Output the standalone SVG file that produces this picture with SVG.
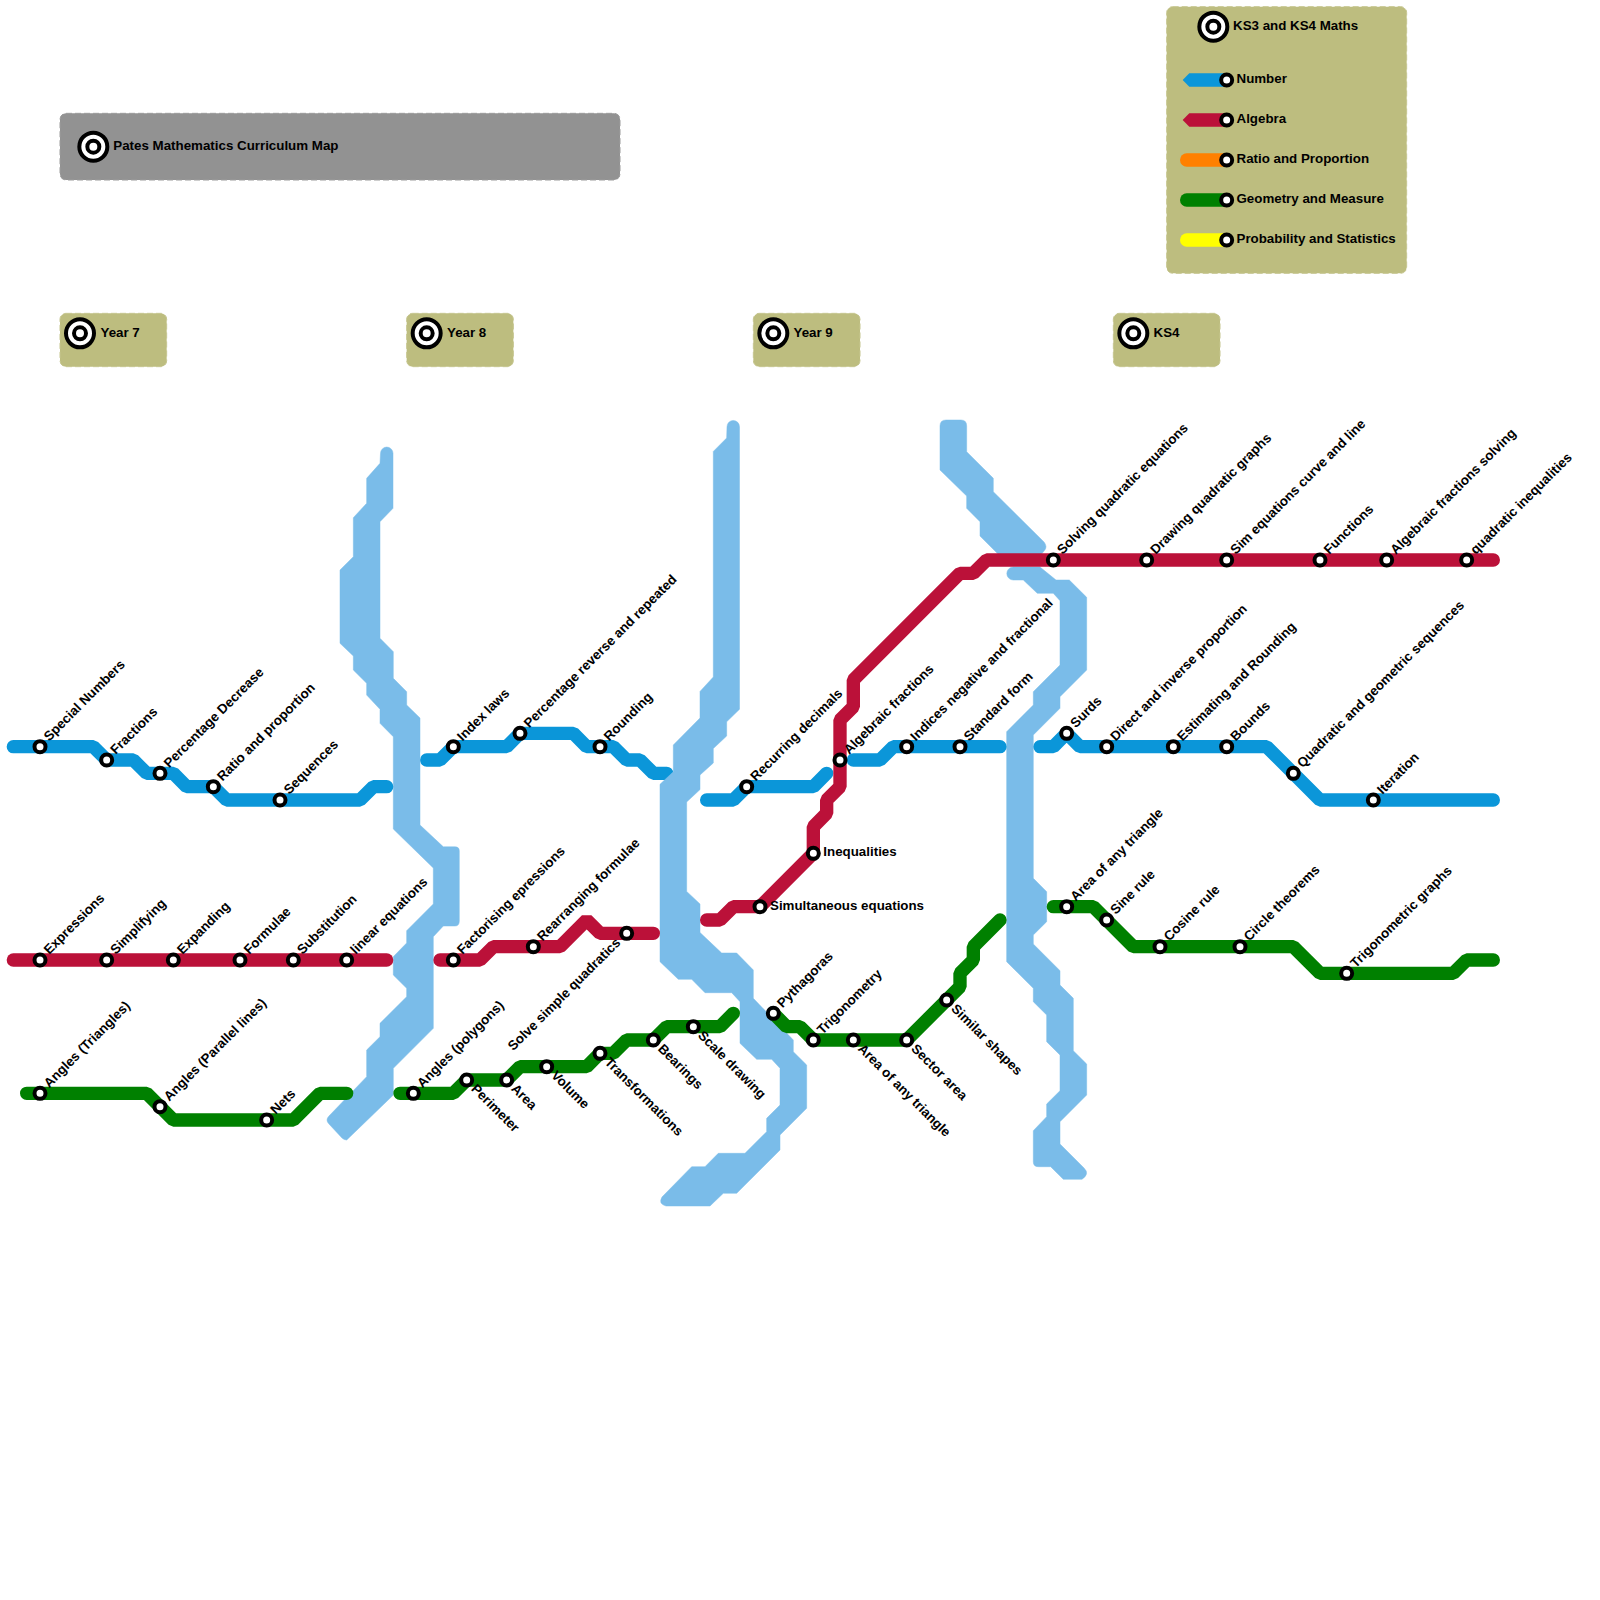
<svg xmlns="http://www.w3.org/2000/svg" width="1600" height="1600" viewBox="0 0 1600 1600">
<style>
.ln{fill:none;stroke-width:1;stroke-linecap:round;stroke-linejoin:bevel}
.num{stroke:#0b96d9}.alg{stroke:#bb1139}.geo{stroke:#008000}
.ghost{fill:#7abce9;stroke:#7abce9;stroke-width:.5;stroke-linejoin:round}
.panel{fill:#bdbd7f;stroke:#c6c690;stroke-width:1;stroke-dasharray:6 3}
.grey{fill:#929292;stroke:#9c9c9c;stroke-width:1;stroke-dasharray:6 3}
.st{fill:#fff;stroke:#000;stroke-width:4}
.up{transform:rotate(-45deg)}
.dn{transform:rotate(45deg)}
text{font-family:"Liberation Sans",Arial,sans-serif;font-weight:bold;font-size:13.33px;fill:#000}
</style>
<defs>
<g id="target"><circle r="14" fill="#fff" stroke="#000" stroke-width="4"/><circle r="6" fill="#fff" stroke="#000" stroke-width="4"/></g>
</defs>
<g id="panels">
<rect class="grey" x="60" y="113.33" width="560" height="66.67" rx="6"/>
<rect class="panel" x="1166.67" y="6.67" width="240" height="266.67" rx="6"/>
<rect class="panel" x="60" y="313.33" width="106.67" height="53.33" rx="6"/>
<rect class="panel" x="406.67" y="313.33" width="106.67" height="53.33" rx="6"/>
<rect class="panel" x="753.33" y="313.33" width="106.67" height="53.33" rx="6"/>
<rect class="panel" x="1113.33" y="313.33" width="106.67" height="53.33" rx="6"/>
</g>
<g id="connectors">
<g id="lines-under" transform="scale(13.3333)">
<polyline class="ln num" points="32,57 33,57 34,56 38,56 39,55 43,55 44,56 46,56 47,57 48,57 49,58 50,58"/>
</g>
<g id="ghosts">
<path class="ghost" d="M380.5,453.3 A6.2,6.2 0 0 1 393,453.3 L393,508.3 L380,521.7 L380,638.3 L393.3,651.7 L393.3,678.3 L406.67,691.7 L406.67,705 L420,718 L420,825 L443.3,846.8 L455,846.8 Q459.3,846.8 459.3,851 L459.3,921 Q459.3,926 455,926 L443.3,926 L433.3,936.7 L433.3,1028.3 L393.3,1068.3 L393.3,1095 L346.7,1140 Q344,1140 342,1138 L329,1124 Q325,1120 329,1116 L366.67,1076.7 L366.67,1050 L380,1036.7 L380,1023.3 L406.67,996.7 L406.67,988.3 L393.3,975 L393.3,956.7 L406.67,943 L406.67,930.7 L433.3,904 L433.3,868 L393.3,829 L393.3,736.7 L380,723.3 L380,709.3 L366.67,695 L366.67,683.3 L353.33,670 L353.33,656 L340,643.3 L340,570 L353.33,556.7 L353.33,517.7 L366.67,503.3 L366.67,478.3 L380,463.3 Z"/>
<path class="ghost" d="M727,426.7 A6.2,6.2 0 0 1 739.5,426.7 L739.5,709.3 L726.67,721.8 L726.67,736 L713.3,748.6 L713.3,763 L700,775 L700,789.6 L686.67,802 L686.67,891.4 L700,904 L700,932.5 L721.67,953 L736.67,953 L753.3,970 L753.3,998.3 L793.3,1040 L793.3,1051.7 L806.67,1065 L806.67,1108.3 L780,1135 L780,1150 L736.7,1193.3 L723.3,1193.3 L710,1206 L666,1206 Q658,1204 662,1197 L691.7,1166.7 L705,1166.7 L718.3,1153.3 L745,1153.3 L766.67,1131.7 L766.67,1118.3 L780,1105 L780,1068.3 L771.7,1059.3 L756.7,1059.3 L740,1043.3 L740,1001.7 L731.7,992.7 L705,992.7 L691.7,979.3 L678.3,979.3 L660,961.7 L660,784.3 L673.3,771.8 L673.3,745 L700,718 L700,691.4 L713.3,677 L713.3,451.4 L726.67,438 Z"/>
<path class="ghost" d="M940,426 Q940,420 946,420 L961,420 Q966.67,420 966.67,426 L966.67,451.7 L993.3,478.3 L993.3,491.7 L1044,542 Q1048,547 1044,551 L1040,556 L1000,556 L980,536 L980,521.7 L966.67,508.3 L966.67,496 L940,470 Z"/>
<path class="ghost" d="M1013.3,567 L1040,567 L1056,580 L1069.3,580 L1086.67,597.3 L1086.67,670 L1060,696.7 L1060,708.3 L1033.3,735 L1033.3,878.3 L1046.67,891.7 L1046.67,921.7 L1033.3,935 L1033.3,944 L1060,970.7 L1060,985 L1073.3,998.3 L1073.3,1050.7 L1086.67,1064 L1086.67,1095 L1060,1121.7 L1060,1144 L1084,1168 Q1090,1174 1082,1179.3 L1063.3,1179.3 L1050.7,1166.7 L1038.3,1166.7 Q1033.3,1166.7 1033.3,1161.7 L1033.3,1130.7 L1046.67,1116.7 L1046.67,1104 L1060,1090.7 L1060,1055 L1046.67,1041.7 L1046.67,1015 L1033.3,1001.7 L1033.3,988.3 L1006.67,961.7 L1006.67,731.7 L1033.3,705 L1033.3,691.7 L1060,665 L1060,600.7 L1053.3,593.3 L1037.3,593.3 L1023.3,580 L1013.3,580 A6.5,6.5 0 0 1 1013.3,567 Z"/>
</g>
<g id="lines" transform="scale(13.3333)">
<polyline class="ln num" points="1,56 7,56 8,57 10,57 11,58 13,58 14,59 16,59 17,60 27,60 28,59 29,59"/>
<polyline class="ln num" points="53,60 55,60 56,59 61,59 62,58"/>
<polyline class="ln num" points="64,57 66,57 67,56 75,56"/>
<polyline class="ln num" points="78,56 79,56 80,55 81,56 95,56 99,60 112,60"/>
<polyline class="ln alg" points="1,72 29,72"/>
<polyline class="ln alg" points="33,72 36,72 37,71 42,71 44,69 45,70 49,70"/>
<polyline class="ln alg" points="53,69 54,69 55,68 57,68 61,64 61,62 62,61 62,60 63,59 63,54 64,53 64,51 72,43 73,43 74,42 112,42"/>
<polyline class="ln geo" points="2,82 11,82 13,84 22,84 24,82 26,82"/>
<polyline class="ln geo" points="30,82 34,82 35,81 38,81 39,80 44,80 45,79 46,79 47,78 49,78 50,77 54,77 55,76"/>
<polyline class="ln geo" points="58,76 59,77 60,77 61,78 68,78 72,74 72,73 73,72 73,71 75,69"/>
<polyline class="ln geo" points="79,68 82,68 85,71 97,71 99,73 109,73 110,72 112,72"/>
</g>
<g id="legend-lines">
<polygon points="1182.67,80 1189.3,73.33 1226.67,73.33 1226.67,86.67 1189.3,86.67" fill="#0b96d9"/>
<polygon points="1182.67,120 1189.3,113.33 1226.67,113.33 1226.67,126.67 1189.3,126.67" fill="#bb1139"/>
<line x1="1186.67" y1="160" x2="1226.67" y2="160" stroke="#ff8000" stroke-width="13.33" stroke-linecap="round"/>
<line x1="1186.67" y1="200" x2="1226.67" y2="200" stroke="#008000" stroke-width="13.33" stroke-linecap="round"/>
<line x1="1186.67" y1="240" x2="1226.67" y2="240" stroke="#ffff00" stroke-width="13.33" stroke-linecap="round"/>
</g>
</g>
<g id="title"><use href="#target" x="93.33" y="146.67"/><text x="113.3" y="150">Pates Mathematics Curriculum Map</text></g>
<g id="key-title"><use href="#target" x="1213.33" y="26.67"/><text x="1233" y="30">KS3 and KS4 Maths</text></g>
<g id="year7"><use href="#target" x="80" y="333.33"/><text x="100.5" y="337">Year 7</text></g>
<g id="year8"><use href="#target" x="426.67" y="333.33"/><text x="447" y="337">Year 8</text></g>
<g id="year9"><use href="#target" x="773.33" y="333.33"/><text x="793.5" y="337">Year 9</text></g>
<g id="ks4"><use href="#target" x="1133.33" y="333.33"/><text x="1153.5" y="337">KS4</text></g>
<g id="key-number"><circle class="st" cx="1226.67" cy="80" r="5.5"/><text x="1236.5" y="83">Number</text></g>
<g id="key-algebra"><circle class="st" cx="1226.67" cy="120" r="5.5"/><text x="1236.5" y="123">Algebra</text></g>
<g id="key-ratio"><circle class="st" cx="1226.67" cy="160" r="5.5"/><text x="1236.5" y="163">Ratio and Proportion</text></g>
<g id="key-geometry"><circle class="st" cx="1226.67" cy="200" r="5.5"/><text x="1236.5" y="203">Geometry and Measure</text></g>
<g id="key-probability"><circle class="st" cx="1226.67" cy="240" r="5.5"/><text x="1236.5" y="243">Probability and Statistics</text></g>
<g id="nodes">
<g id="s1" transform="translate(40,746.67)"><circle class="st" r="5.5"/><text class="up" x="10" y="3">Special Numbers</text></g>
<g id="s2" transform="translate(106.67,760)"><circle class="st" r="5.5"/><text class="up" x="10" y="3">Fractions</text></g>
<g id="s3" transform="translate(160,773.33)"><circle class="st" r="5.5"/><text class="up" x="10" y="3">Percentage Decrease</text></g>
<g id="s4" transform="translate(213.33,786.67)"><circle class="st" r="5.5"/><text class="up" x="10" y="3">Ratio and proportion</text></g>
<g id="s5" transform="translate(280,800)"><circle class="st" r="5.5"/><text class="up" x="10" y="3">Sequences</text></g>
<g id="s6" transform="translate(453.33,746.67)"><circle class="st" r="5.5"/><text class="up" x="10" y="3">Index laws</text></g>
<g id="s7" transform="translate(520,733.33)"><circle class="st" r="5.5"/><text class="up" x="10" y="3">Percentage reverse and repeated</text></g>
<g id="s8" transform="translate(600,746.67)"><circle class="st" r="5.5"/><text class="up" x="10" y="3">Rounding</text></g>
<g id="s9" transform="translate(746.67,786.67)"><circle class="st" r="5.5"/><text class="up" x="10" y="3">Recurring decimals</text></g>
<g id="s10" transform="translate(906.67,746.67)"><circle class="st" r="5.5"/><text class="up" x="10" y="3">Indices negative and fractional</text></g>
<g id="s11" transform="translate(960,746.67)"><circle class="st" r="5.5"/><text class="up" x="10" y="3">Standard form</text></g>
<g id="s12" transform="translate(1066.67,733.33)"><circle class="st" r="5.5"/><text class="up" x="10" y="3">Surds</text></g>
<g id="s13" transform="translate(1106.67,746.67)"><circle class="st" r="5.5"/><text class="up" x="10" y="3">Direct and inverse proportion</text></g>
<g id="s14" transform="translate(1173.33,746.67)"><circle class="st" r="5.5"/><text class="up" x="10" y="3">Estimating and Rounding</text></g>
<g id="s15" transform="translate(1226.67,746.67)"><circle class="st" r="5.5"/><text class="up" x="10" y="3">Bounds</text></g>
<g id="s16" transform="translate(1293.33,773.33)"><circle class="st" r="5.5"/><text class="up" x="10" y="3">Quadratic and geometric sequences</text></g>
<g id="s17" transform="translate(1373.33,800)"><circle class="st" r="5.5"/><text class="up" x="10" y="3">Iteration</text></g>
<g id="a1" transform="translate(40,960)"><circle class="st" r="5.5"/><text class="up" x="10" y="3">Expressions</text></g>
<g id="a2" transform="translate(106.67,960)"><circle class="st" r="5.5"/><text class="up" x="10" y="3">Simplifying</text></g>
<g id="a3" transform="translate(173.33,960)"><circle class="st" r="5.5"/><text class="up" x="10" y="3">Expanding</text></g>
<g id="a4" transform="translate(240,960)"><circle class="st" r="5.5"/><text class="up" x="10" y="3">Formulae</text></g>
<g id="a5" transform="translate(293.33,960)"><circle class="st" r="5.5"/><text class="up" x="10" y="3">Substitution</text></g>
<g id="a6" transform="translate(346.67,960)"><circle class="st" r="5.5"/><text class="up" x="10" y="3">linear equations</text></g>
<g id="a7" transform="translate(453.33,960)"><circle class="st" r="5.5"/><text class="up" x="10" y="3">Factorising epressions</text></g>
<g id="a8" transform="translate(533.33,946.67)"><circle class="st" r="5.5"/><text class="up" x="10" y="3">Rearranging formulae</text></g>
<g id="a9" transform="translate(626.67,933.33)"><circle class="st" r="5.5"/><text class="up" x="-11" y="3.3" text-anchor="end">Solve simple quadratics</text></g>
<g id="a10" transform="translate(760,906.67)"><circle class="st" r="5.5"/><text x="10" y="3">Simultaneous equations</text></g>
<g id="a11" transform="translate(813.33,853.33)"><circle class="st" r="5.5"/><text x="10" y="3">Inequalities</text></g>
<g id="a12" transform="translate(840,760)"><circle class="st" r="5.5"/><text class="up" x="10" y="3">Algebraic fractions</text></g>
<g id="a13" transform="translate(1053.33,560)"><circle class="st" r="5.5"/><text class="up" x="10" y="3">Solving quadratic equations</text></g>
<g id="a14" transform="translate(1146.67,560)"><circle class="st" r="5.5"/><text class="up" x="10" y="3">Drawing quadratic graphs</text></g>
<g id="a15" transform="translate(1226.67,560)"><circle class="st" r="5.5"/><text class="up" x="10" y="3">Sim equations curve and line</text></g>
<g id="a16" transform="translate(1320,560)"><circle class="st" r="5.5"/><text class="up" x="10" y="3">Functions</text></g>
<g id="a17" transform="translate(1386.67,560)"><circle class="st" r="5.5"/><text class="up" x="10" y="3">Algebraic fractions solving</text></g>
<g id="a18" transform="translate(1466.67,560)"><circle class="st" r="5.5"/><text class="up" x="10" y="3">quadratic inequalities</text></g>
<g id="g1" transform="translate(40,1093.33)"><circle class="st" r="5.5"/><text class="up" x="10" y="3">Angles (Triangles)</text></g>
<g id="g2" transform="translate(160,1106.67)"><circle class="st" r="5.5"/><text class="up" x="10" y="3">Angles (Parallel lines)</text></g>
<g id="g3" transform="translate(266.67,1120)"><circle class="st" r="5.5"/><text class="up" x="10" y="3">Nets</text></g>
<g id="g4" transform="translate(413.33,1093.33)"><circle class="st" r="5.5"/><text class="up" x="10" y="3">Angles (polygons)</text></g>
<g id="g5" transform="translate(466.67,1080)"><circle class="st" r="5.5"/><text class="dn" x="9.5" y="4">Perimeter</text></g>
<g id="g6" transform="translate(506.67,1080)"><circle class="st" r="5.5"/><text class="dn" x="9.5" y="4">Area</text></g>
<g id="g7" transform="translate(546.67,1066.67)"><circle class="st" r="5.5"/><text class="dn" x="9.5" y="4">Volume</text></g>
<g id="g8" transform="translate(600,1053.33)"><circle class="st" r="5.5"/><text class="dn" x="9.5" y="4">Transformations</text></g>
<g id="g9" transform="translate(653.33,1040)"><circle class="st" r="5.5"/><text class="dn" x="9.5" y="4">Bearings</text></g>
<g id="g10" transform="translate(693.33,1026.67)"><circle class="st" r="5.5"/><text class="dn" x="9.5" y="4">Scale drawing</text></g>
<g id="g11" transform="translate(773.33,1013.33)"><circle class="st" r="5.5"/><text class="up" x="10" y="3">Pythagoras</text></g>
<g id="g12" transform="translate(813.33,1040)"><circle class="st" r="5.5"/><text class="up" x="10" y="3">Trigonometry</text></g>
<g id="g13" transform="translate(853.33,1040)"><circle class="st" r="5.5"/><text class="dn" x="9.5" y="4">Area of any triangle</text></g>
<g id="g14" transform="translate(906.67,1040)"><circle class="st" r="5.5"/><text class="dn" x="9.5" y="4">Sector area</text></g>
<g id="g15" transform="translate(946.67,1000)"><circle class="st" r="5.5"/><text class="dn" x="9.5" y="4">Similar shapes</text></g>
<g id="g16" transform="translate(1066.67,906.67)"><circle class="st" r="5.5"/><text class="up" x="10" y="3">Area of any triangle</text></g>
<g id="g17" transform="translate(1106.67,920)"><circle class="st" r="5.5"/><text class="up" x="10" y="3">Sine rule</text></g>
<g id="g18" transform="translate(1160,946.67)"><circle class="st" r="5.5"/><text class="up" x="10" y="3">Cosine rule</text></g>
<g id="g19" transform="translate(1240,946.67)"><circle class="st" r="5.5"/><text class="up" x="10" y="3">Circle theorems</text></g>
<g id="g20" transform="translate(1346.67,973.33)"><circle class="st" r="5.5"/><text class="up" x="10" y="3">Trigonometric graphs</text></g>
</g>
</svg>
